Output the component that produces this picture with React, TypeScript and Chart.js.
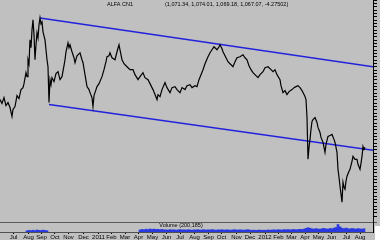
import { useEffect, useRef } from "react";
import { Chart, registerables } from "chart.js";

Chart.register(...registerables);

// ---- data ----
const titleText = "ALFA CN1";
const quoteText = "(1,071.34, 1,074.01, 1,069.18, 1,067.07, -4.27502)";
const volumeText = "Volume (200,185)";

const monthTickDays = [27, 57, 83, 110, 137, 167, 197, 223, 250, 277, 305, 333, 360, 389, 417, 443, 473, 500, 530, 557, 583, 610, 637, 663, 693, 720];
const monthLabels = ["Jul", "Aug", "Sep", "Oct", "Nov", "Dec", "2011", "Feb", "Mar", "Apr", "May", "Jun", "Jul", "Aug", "Sep", "Oct", "Nov", "Dec", "2012", "Feb", "Mar", "Apr", "May", "Jun", "Jul", "Aug"];

const sessionDays = [
  0, 4, 8, 12, 16, 20, 24, 26, 30, 34, 38, 42, 46, 48, 52, 54, 56, 58, 60, 62, 64, 66, 68, 70, 72, 74, 76, 78, 80, 82, 84, 86, 90, 92, 94, 96, 98,
  100, 102, 104, 108, 112, 116, 120, 124, 128, 130, 132, 136, 138, 140, 144, 148, 150, 154, 160, 164, 166, 170, 174, 178, 180, 184, 186, 188, 192, 194, 198,
  204, 208, 212, 214, 218, 220, 224, 230, 234, 238, 240, 244, 248, 254, 260, 266, 270, 276, 280, 286, 290, 296, 300, 306, 310, 314, 316, 320, 324, 330, 334,
  340, 344, 350, 354, 360, 364, 370, 374, 380, 384, 390, 394, 398, 402, 406, 410, 416, 420, 424, 428, 434, 438, 440, 444, 446, 450, 456, 460, 466, 470, 474,
  480, 486, 490, 494, 498, 502, 506, 512, 516, 520, 526, 530, 536, 542, 546, 550, 554, 560, 562, 566, 570, 574, 578, 584, 588, 592, 596, 600, 604, 606, 610,
  612, 614, 616, 618, 620, 622, 624, 626, 630, 634, 636, 640, 642, 646, 648, 650, 652, 656, 660, 664, 668, 670, 674, 676, 678, 680, 682, 684, 686, 688, 690,
  692, 694, 698, 700, 704, 706, 710, 714, 716, 720, 722, 724, 726, 728, 730,
];
const closes = [
  1211, 1199, 1217, 1193, 1202, 1187, 1160, 1181, 1190, 1223, 1214, 1241, 1247, 1259, 1292, 1280, 1331, 1319, 1391, 1367, 1421, 1451, 1406, 1331, 1376, 1412, 1397, 1436, 1457, 1439, 1445, 1415, 1391, 1361, 1331, 1310, 1202,
  1271, 1256, 1277, 1265, 1289, 1295, 1271, 1280, 1313, 1331, 1355, 1382, 1367, 1376, 1355, 1337, 1322, 1343, 1352, 1331, 1322, 1286, 1250, 1241, 1232, 1217, 1190, 1223, 1241, 1250, 1259,
  1280, 1301, 1325, 1340, 1343, 1352, 1337, 1331, 1355, 1376, 1361, 1331, 1319, 1310, 1301, 1301, 1286, 1271, 1280, 1292, 1277, 1271, 1259, 1241, 1226, 1211, 1226, 1220, 1241, 1262, 1247,
  1232, 1247, 1250, 1241, 1232, 1247, 1241, 1253, 1256, 1247, 1253, 1250, 1271, 1286, 1301, 1319, 1340, 1352, 1361, 1370, 1361, 1370, 1376, 1364, 1355, 1343, 1325, 1319, 1310, 1325, 1337,
  1340, 1346, 1337, 1331, 1313, 1301, 1292, 1283, 1277, 1286, 1295, 1307, 1310, 1301, 1295, 1301, 1286, 1271, 1253, 1232, 1238, 1226, 1235, 1241, 1247, 1250, 1253, 1247, 1238, 1232, 1220,
  1211, 1157, 1031, 1067, 1091, 1121, 1145, 1151, 1157, 1142, 1127, 1112, 1097, 1082, 1067, 1052, 1076, 1100, 1103, 1106, 1091, 1082, 1052, 1001, 977, 950, 926, 902, 962, 947, 941,
  965, 980, 995, 1001, 1025, 1040, 1031, 1031, 1016, 1001, 1019, 1040, 1070, 1061, 1067,
];

const upperTrendDays = [80, 746];
const upperTrendValues = [1457, 1310];
const lowerTrendDays = [98, 746];
const lowerTrendValues = [1196, 1058];

const volumeDays = [
  54, 58, 62, 66, 70, 74, 78, 82, 86, 90, 94,
  280, 284, 288, 292, 296, 300, 304, 308, 312, 316, 320, 324, 328,
  332, 336, 340, 344, 348, 352, 356, 360, 364, 368, 372, 376, 380, 384, 388, 392, 396, 400,
  404, 408, 412, 416, 420, 424, 428, 432, 436, 440, 444, 448, 452, 456, 460, 464, 468, 472, 476, 480, 484, 488, 492, 496, 500,
  504, 508, 512, 516, 520, 524, 528, 532, 536, 540, 544, 548, 552, 556, 560, 564, 568, 572, 576, 580, 584, 588, 592, 596, 600,
  604, 608, 612, 616, 620, 624, 628, 632, 636, 640, 644, 648, 652, 656, 660, 664, 668, 672, 676, 680, 684, 688, 692, 696, 700, 704, 708, 712, 716, 720, 724, 728,
];
const volumes = [
  1.2, 1.6, 1.4, 1.8, 1.3, 2.0, 1.7, 1.5, 1.9, 1.6, 1.3,
  2.0, 2.6, 2.2, 2.8, 2.4, 3.0, 2.6, 2.9, 2.5, 2.7, 2.3, 2.6, 2.1,
  2.2, 1.9, 2.4, 2.0, 2.3, 1.8, 2.1, 2.5, 2.0, 2.2, 1.9, 2.3, 2.1, 1.8, 2.2, 2.0, 2.4, 1.9,
  2.1, 2.3, 1.9, 2.2, 2.0, 2.4, 2.1, 1.8, 2.2, 2.0, 2.3, 1.9, 2.1, 2.2, 1.8, 2.0, 2.3, 2.1, 1.9, 2.2, 2.0, 1.8, 2.1, 2.3, 1.9,
  1.7, 1.9, 1.6, 1.8, 2.0, 1.7, 1.9, 1.6, 2.1, 1.8, 2.0, 2.2, 1.9, 2.3, 2.1, 2.0, 2.4, 2.2, 2.5, 2.1, 2.3, 2.6, 2.2, 2.4, 2.7,
  2.5, 2.9, 3.6, 4.3, 3.8, 3.2, 2.9, 3.4, 3.0, 2.8, 3.3, 3.7, 3.1, 2.9, 3.5, 3.2, 3.9, 4.5, 7.5, 5.2, 3.8, 3.4, 3.9, 3.3, 3.0, 3.6, 3.2, 2.9, 3.4, 3.1, 2.8, 3.3,
];

const BG = "#c0c0c0";
const TREND = "#2222dd";
const VOL = "#2a3ae0";

const overlay = {
  id: "overlay",
  beforeDraw(chart: any) {
    const { ctx, width, height } = chart;
    ctx.save();
    ctx.fillStyle = BG;
    ctx.fillRect(0, 0, width, height);
    ctx.restore();
  },
  afterDraw(chart: any) {
    const { ctx, chartArea } = chart;
    const y2 = chart.scales.y2;
    ctx.save();
    ctx.fillStyle = "#000";
    ctx.textBaseline = "middle";
    ctx.font = '5.5px "Liberation Sans", Arial, sans-serif';
    ctx.textAlign = "left";
    ctx.fillText(titleText, chartArea.left + 107, chartArea.top + 4);
    ctx.fillText(quoteText, chartArea.left + 165, chartArea.top + 4);
    ctx.textAlign = "center";
    ctx.fillText(volumeText, chartArea.left + 181, y2.top + 3);
    ctx.fillStyle = "#ffffff";
    ctx.fillRect(chartArea.right + 2, y2.top + 4, 20, 40);
    ctx.restore();
  },
};

const fitNarrow = (s: any) => {
  s.width = 5;
};

export default function App() {
  const ref = useRef<HTMLCanvasElement | null>(null);
  useEffect(() => {
    if (!ref.current) return;
    const chart = new Chart(ref.current, {
      type: "line",
      data: {
        datasets: [
          {
            type: "line",
            data: sessionDays.map((d, i) => ({ x: d, y: closes[i] })),
            borderColor: "#000",
            borderWidth: 1.2,
            pointRadius: 0,
            pointHoverRadius: 0,
            tension: 0,
            yAxisID: "y",
          },
          {
            type: "line",
            data: upperTrendDays.map((d, i) => ({ x: d, y: upperTrendValues[i] })),
            borderColor: TREND,
            borderWidth: 1.5,
            pointRadius: 0,
            pointHoverRadius: 0,
            yAxisID: "y",
          },
          {
            type: "line",
            data: lowerTrendDays.map((d, i) => ({ x: d, y: lowerTrendValues[i] })),
            borderColor: TREND,
            borderWidth: 1.5,
            pointRadius: 0,
            pointHoverRadius: 0,
            yAxisID: "y",
          },
          {
            type: "bar",
            data: volumeDays.map((d, i) => ({ x: d, y: volumes[i] })),
            backgroundColor: VOL,
            borderWidth: 0,
            barThickness: 2,
            yAxisID: "y2",
          } as any,
        ],
      },
      options: {
        animation: false,
        responsive: false,
        events: [],
        layout: { autoPadding: false, padding: { left: 0, top: 0, right: 2, bottom: 0 } },
        plugins: { legend: { display: false }, tooltip: { enabled: false } },
        scales: {
          x: {
            type: "linear",
            min: 0,
            max: 746,
            offset: false,
            afterBuildTicks: (s: any) => {
              s.ticks = monthTickDays.map((v) => ({ value: v }));
            },
            afterFit: (s: any) => {
              s.paddingLeft = 0;
              s.paddingRight = 0;
            },
            ticks: {
              autoSkip: false,
              maxRotation: 0,
              padding: 0,
              color: "#000",
              font: { size: 6, family: '"Liberation Sans", Arial, sans-serif', lineHeight: 1 },
              callback: (_v: any, i: number) => monthLabels[i],
            },
            grid: { drawOnChartArea: false, offset: false, tickLength: 2, color: "#000" },
            border: { color: "#505050" },
          },
          y: {
            type: "linear",
            position: "right",
            stack: "main",
            stackWeight: 223,
            min: 842,
            max: 1511,
            afterFit: fitNarrow,
            ticks: { display: false, stepSize: 10, maxTicksLimit: 1000, padding: 0 },
            grid: { drawOnChartArea: false, tickLength: 4, color: "#000" },
            border: { color: "#000" },
          },
          y2: {
            type: "linear",
            position: "right",
            stack: "main",
            stackWeight: 10,
            min: 0,
            max: 10,
            afterFit: fitNarrow,
            afterBuildTicks: (s: any) => {
              s.ticks = [{ value: 10 }];
            },
            ticks: { display: false, padding: 0 },
            grid: { drawOnChartArea: true, tickLength: 4, color: "#5a5a5a" },
            border: { color: "#000" },
          },
        },
      },
      plugins: [overlay],
    } as any);
    return () => chart.destroy();
  }, []);
  return (
    <div style={{ position: "absolute", left: 0, top: 0, width: 380, height: 240, background: BG }}>
      <canvas ref={ref} width={380} height={240} style={{ display: "block" }} />
    </div>
  );
}
